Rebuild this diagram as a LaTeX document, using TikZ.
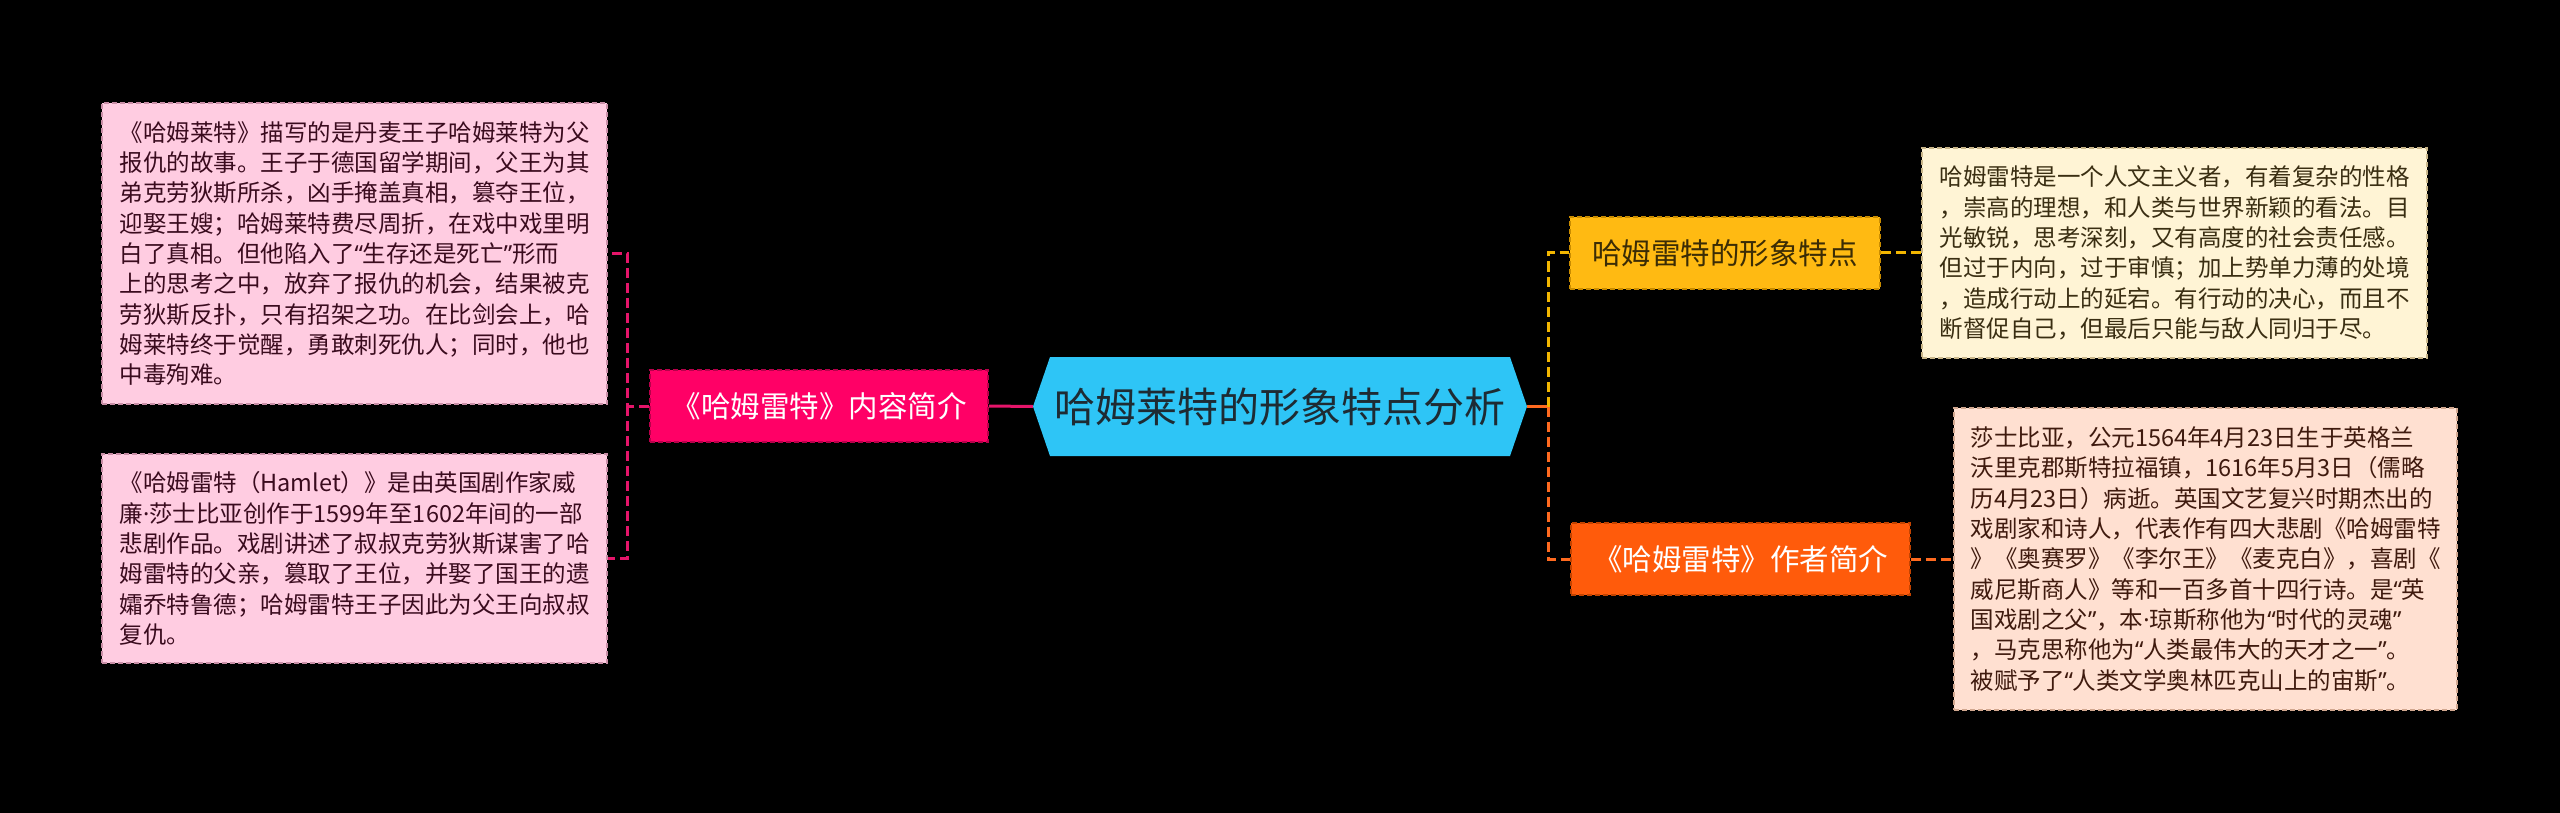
\documentclass[tikz,border=0pt]{standalone}
\usepackage{fontspec}
\setmainfont{Noto Sans CJK SC}
\newfontfamily\qfont{Noto Sans}
\newcommand{\myqo}{{\qfont “}}
\newcommand{\myqc}{{\qfont ”}}
\newcommand{\mydot}{{\qfont ·}}
\definecolor{pinkfill}{HTML}{FFCCE1}
\definecolor{pinkborder}{HTML}{C98FA7}
\definecolor{pinktext}{HTML}{3A0B1E}
\definecolor{hotpink}{HTML}{FF0066}
\definecolor{hotpinkborder}{HTML}{B8004A}
\definecolor{pinkline}{HTML}{E5156A}
\definecolor{hexcyan}{HTML}{2EC5F6}
\definecolor{hextext}{HTML}{1E2B33}
\definecolor{yellownode}{HTML}{FFBA12}
\definecolor{yellowborder}{HTML}{C98C00}
\definecolor{yellowtext}{HTML}{3B2C05}
\definecolor{yellowline}{HTML}{F2B600}
\definecolor{creamfill}{HTML}{FFF4D5}
\definecolor{creamborder}{HTML}{C9B68A}
\definecolor{creamtext}{HTML}{3A2E12}
\definecolor{orangenode}{HTML}{FF5B0B}
\definecolor{orangeborder}{HTML}{C24300}
\definecolor{orangeline}{HTML}{FF6A1F}
\definecolor{peachfill}{HTML}{FFE0D1}
\definecolor{peachborder}{HTML}{D2A890}
\definecolor{peachtext}{HTML}{3F1A0E}
\begin{document}
\begin{tikzpicture}[x=1pt,y=-1pt,
  infobox/.style={align=left, inner sep=0pt, line width=1.5pt, dash pattern=on 5pt off 3pt,
    font=\fontsize{23.5}{30.3}\selectfont},
  topic/.style={inner sep=0pt, line width=1.5pt, dash pattern=on 5pt off 3pt,
    font=\fontsize{29.5}{34}\selectfont, minimum height=72pt},
  conn/.style={line width=3pt},
  dconn/.style={line width=3pt, dash pattern=on 10pt off 5pt}]
\fill[black] (0,0) rectangle (2560,813);
\useasboundingbox (0,0) rectangle (2560,813);

% central hexagon
\fill[hexcyan] (1033,406.5) -- (1050,357) -- (1510,357) -- (1527,406.5) -- (1510,456) -- (1050,456) -- cycle;
\node[inner sep=0pt, minimum width=494pt, minimum height=99pt, text=hextext,
  font=\fontsize{41}{46}\selectfont] (hex) at (1280,406.5) {哈姆莱特的形象特点分析};

% left side
\node[topic, fill=hotpink, draw=hotpinkborder, text=white, minimum width=338pt] (pn) at (819,406) {《哈姆雷特》内容简介};
\node[infobox, fill=pinkfill, draw=pinkborder, text=pinktext, minimum width=505pt, minimum height=301pt] (b1) at (354.5,253.5) {%
《哈姆莱特》描写的是丹麦王子哈姆莱特为父\\
报仇的故事。王子于德国留学期间，父王为其\\
弟克劳狄斯所杀，凶手掩盖真相，篡夺王位，\\
迎娶王嫂；哈姆莱特费尽周折，在戏中戏里明\\
白了真相。但他陷入了\myqo 生存还是死亡\myqc 形而\\
上的思考之中，放弃了报仇的机会，结果被克\\
劳狄斯反扑，只有招架之功。在比剑会上，哈\\
姆莱特终于觉醒，勇敢刺死仇人；同时，他也\\
中毒殉难。};
\node[infobox, fill=pinkfill, draw=pinkborder, text=pinktext, minimum width=505pt, minimum height=209pt] (b2) at (354.5,558.5) {%
《哈姆雷特（Hamlet）》是由英国剧作家威\\
廉\mydot 莎士比亚创作于1599年至1602年间的一部\\
悲剧作品。戏剧讲述了叔叔克劳狄斯谋害了哈\\
姆雷特的父亲，篡取了王位，并娶了国王的遗\\
孀乔特鲁德；哈姆雷特王子因此为父王向叔叔\\
复仇。};

% right side
\node[topic, fill=yellownode, draw=yellowborder, text=yellowtext, minimum width=310pt] (yn) at (1725,253) {哈姆雷特的形象特点};
\node[topic, fill=orangenode, draw=orangeborder, text=white, minimum width=339pt] (on) at (1740.5,559) {《哈姆雷特》作者简介};
\node[infobox, fill=creamfill, draw=creamborder, text=creamtext, minimum width=505pt, minimum height=210pt] (yb) at (2174.5,253) {%
哈姆雷特是一个人文主义者，有着复杂的性格\\
，崇高的理想，和人类与世界新颖的看法。目\\
光敏锐，思考深刻，又有高度的社会责任感。\\
但过于内向，过于审慎；加上势单力薄的处境\\
，造成行动上的延宕。有行动的决心，而且不\\
断督促自己，但最后只能与敌人同归于尽。};
\node[infobox, fill=peachfill, draw=peachborder, text=peachtext, minimum width=503pt, minimum height=302pt] (ob) at (2205.5,559) {%
莎士比亚，公元1564年4月23日生于英格兰\\
沃里克郡斯特拉福镇，1616年5月3日（儒略\\
历4月23日）病逝。英国文艺复兴时期杰出的\\
戏剧家和诗人，代表作有四大悲剧《哈姆雷特\\
》《奥赛罗》《李尔王》《麦克白》，喜剧《\\
威尼斯商人》等和一百多首十四行诗。是\myqo 英\\
国戏剧之父\myqc ，本\mydot 琼斯称他为\myqo 时代的灵魂\myqc\\
，马克思称他为\myqo 人类最伟大的天才之一\myqc 。\\
被赋予了\myqo 人类文学奥林匹克山上的宙斯\myqc 。};

% connectors
\coordinate (jl) at (627,406);
\coordinate (jr) at (1548,406.5);
\draw[conn, pinkline] (pn.east) -- (hex.west);
\draw[dconn, pinkline] (pn.west) -- (jl) |- (b1.east);
\draw[dconn, pinkline] (jl) |- (b2.east);
\draw[conn, orangeline] (hex.east) -- (jr);
\draw[dconn, yellowline] (jr) |- (yn.west);
\draw[dconn, orangeline] (jr) |- (on.west);
\draw[dconn, yellowline] (yn.east) -- (yb.west);
\draw[dconn, orangeline] (on.east) -- (ob.west);
\end{tikzpicture}
\end{document}
